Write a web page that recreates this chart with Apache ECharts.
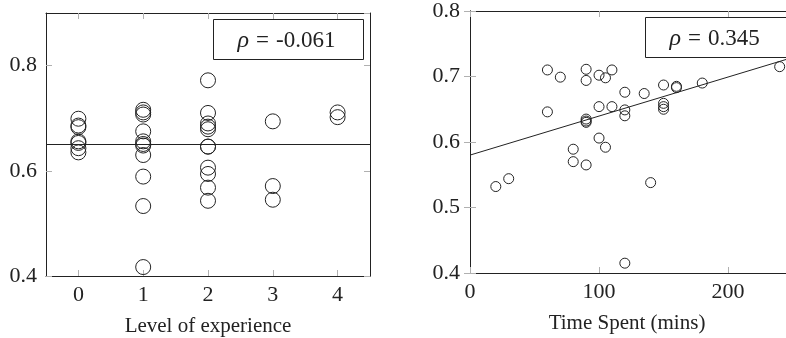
<!DOCTYPE html>
<html>
<head>
<meta charset="utf-8">
<script src="https://cdn.jsdelivr.net/npm/echarts@6/dist/echarts.min.js"></script>
<style>
  html, body { margin: 0; padding: 0; background: #fff; }
  #main { width: 786px; height: 338px; }
</style>
</head>
<body>
<div id="main"></div>
<script>
// 数据
var levelCats = [ '0', '1', '2', '3', '4' ];
var expLevel = [ 0, 0, 0, 0, 0, 0, 0,
    1, 1, 1, 1, 1, 1, 1, 1, 1, 1, 1,
    2, 2, 2, 2, 2, 2, 2, 2, 2, 2, 2,
    3, 3, 3,
    4, 4 ];
var expScore = [ 0.699, 0.686, 0.683, 0.656, 0.653, 0.643, 0.635,
    0.716, 0.711, 0.707, 0.675, 0.656, 0.651, 0.648, 0.630, 0.589, 0.533, 0.417,
    0.772, 0.710, 0.690, 0.684, 0.679, 0.646, 0.646, 0.606, 0.594, 0.568, 0.543,
    0.694, 0.571, 0.545,
    0.711, 0.702 ];
var expFit = 0.646;
var expRho = '-0.061';

var timeSpent = [ 20, 30, 60, 60, 70, 80, 80, 90, 90, 90, 90, 90, 90, 100, 100, 100, 105, 105,
    110, 110, 120, 120, 120, 120, 135, 140, 150, 150, 150, 150, 160, 160, 180, 240 ];
var timeScore = [ 0.532, 0.544, 0.710, 0.646, 0.699, 0.589, 0.570, 0.711, 0.694, 0.635, 0.632, 0.630,
    0.565, 0.702, 0.654, 0.606, 0.698, 0.592, 0.710, 0.654, 0.676, 0.649, 0.640, 0.415, 0.674,
    0.538, 0.687, 0.659, 0.654, 0.650, 0.685, 0.683, 0.690, 0.715 ];
var timeFitIntercept = 0.580;
var timeFitSlope = 0.000596;
var timeRho = '0.345';

var expTicks = [ 0.4, 0.9, 0.2 ];          // min, max, interval
var timeYTicks = [ 0.4, 0.8, 0.1 ];
var timeXTicks = [ 0, 248, 100 ];

var font = '"Liberation Serif", serif';
var ink = '#222';
var tickGrey = '#b0b0b0';

var expData = expLevel.map( function( l, i ) { return [ l, expScore[ i ] ]; } );
var timeData = timeSpent.map( function( t, i ) { return [ t, timeScore[ i ] ]; } );
var fitData = [ timeXTicks[ 0 ], timeXTicks[ 1 ] ].map( function( x ) {
    return [ x, timeFitIntercept + timeFitSlope * x ];
} );

function frameAxis( extra ) {
    var a = {
        axisLine: { show: true, lineStyle: { color: ink, width: 1 } },
        axisTick: { show: true, inside: true, length: 6, lineStyle: { color: tickGrey } },
        axisLabel: { show: false },
        splitLine: { show: false }
    };
    for ( var k in extra ) a[ k ] = extra[ k ];
    return a;
}

var labelStyle = { fontFamily: font, fontSize: 22, color: ink };
var nameStyle = { fontFamily: font, fontSize: 21, color: ink };

function rhoBox( left, top, rho ) {
    return {
        type: 'group',
        left: left, top: top,
        children: [ {
            type: 'rect',
            shape: { x: 0, y: 0, width: 150, height: 40 },
            style: { fill: '#fff', stroke: ink, lineWidth: 1 }
        }, {
            type: 'text',
            x: 24, y: 21,
            style: {
                text: '{i|ρ}{e|=}' + rho,
                font: '23px ' + font,
                fill: ink,
                verticalAlign: 'middle',
                rich: {
                    i: { fontStyle: 'italic', fontSize: 24, fontFamily: font },
                    e: { fontSize: 23, fontFamily: font, padding: [ 0, 7, 0, 7 ] }
                }
            }
        } ]
    };
}

var myChart = echarts.init( document.getElementById( 'main' ) );

var option = {
    animation: false,
    textStyle: { fontFamily: font },
    grid: [
        { left: 46, top: 13, width: 324, height: 263, outerBoundsMode: 'none', containLabel: false },
        { left: 470, top: 11, width: 320, height: 262, outerBoundsMode: 'none', containLabel: false }
    ],
    xAxis: [
        frameAxis( {
            gridIndex: 0, type: 'category', data: levelCats, position: 'bottom',
            axisTick: { show: true, inside: true, length: 6, alignWithLabel: true, lineStyle: { color: tickGrey } },
            axisLabel: Object.assign( { show: true, margin: 8 }, labelStyle ),
            name: 'Level of experience', nameLocation: 'middle', nameGap: 40,
            nameTextStyle: nameStyle
        } ),
        frameAxis( {
            gridIndex: 0, type: 'category', data: levelCats, position: 'top',
            axisTick: { show: true, inside: true, length: 6, alignWithLabel: true, lineStyle: { color: tickGrey } }
        } ),
        frameAxis( {
            gridIndex: 1, type: 'value', position: 'bottom',
            min: timeXTicks[ 0 ], max: timeXTicks[ 1 ], interval: timeXTicks[ 2 ],
            axisLabel: Object.assign( { show: true, margin: 8, showMaxLabel: false }, labelStyle ),
            name: 'Time Spent (mins)', nameLocation: 'middle', nameGap: 40,
            nameTextStyle: Object.assign( { padding: [ 0, 0, 0, -6 ] }, nameStyle )
        } ),
        frameAxis( {
            gridIndex: 1, type: 'value', position: 'top',
            min: timeXTicks[ 0 ], max: timeXTicks[ 1 ], interval: timeXTicks[ 2 ]
        } )
    ],
    yAxis: [
        frameAxis( {
            gridIndex: 0, type: 'value', position: 'left',
            min: expTicks[ 0 ], max: expTicks[ 1 ], interval: expTicks[ 2 ],
            axisLabel: Object.assign( { show: true, margin: 9, showMaxLabel: false }, labelStyle )
        } ),
        frameAxis( {
            gridIndex: 0, type: 'value', position: 'right',
            min: expTicks[ 0 ], max: expTicks[ 1 ], interval: expTicks[ 2 ]
        } ),
        frameAxis( {
            gridIndex: 1, type: 'value', position: 'left',
            min: timeYTicks[ 0 ], max: timeYTicks[ 1 ], interval: timeYTicks[ 2 ],
            axisLabel: Object.assign( { show: true, margin: 10 }, labelStyle )
        } ),
        frameAxis( {
            gridIndex: 1, type: 'value', position: 'right',
            min: timeYTicks[ 0 ], max: timeYTicks[ 1 ], interval: timeYTicks[ 2 ]
        } )
    ],
    series: [ {
        type: 'scatter',
        xAxisIndex: 0,
        yAxisIndex: 0,
        symbolSize: 15,
        data: expData,
        itemStyle: { color: 'transparent', borderColor: ink, borderWidth: 1, opacity: 1 },
        markLine: {
            silent: true,
            symbol: 'none',
            label: { show: false },
            lineStyle: { color: ink, width: 1, type: 'solid' },
            data: [ { yAxis: expFit } ]
        },
        z: 3
    }, {
        type: 'scatter',
        xAxisIndex: 2,
        yAxisIndex: 2,
        symbolSize: 10,
        data: timeData,
        itemStyle: { color: 'transparent', borderColor: ink, borderWidth: 1, opacity: 1 },
        z: 3
    }, {
        type: 'line',
        xAxisIndex: 2,
        yAxisIndex: 2,
        data: fitData,
        showSymbol: false,
        lineStyle: { color: ink, width: 1 },
        z: 2
    } ],
    // 图例框 (ρ)
    graphic: [ rhoBox( 213, 19, expRho ), rhoBox( 645, 17, timeRho ) ]
};

myChart.setOption( option );
</script>
</body>
</html>
